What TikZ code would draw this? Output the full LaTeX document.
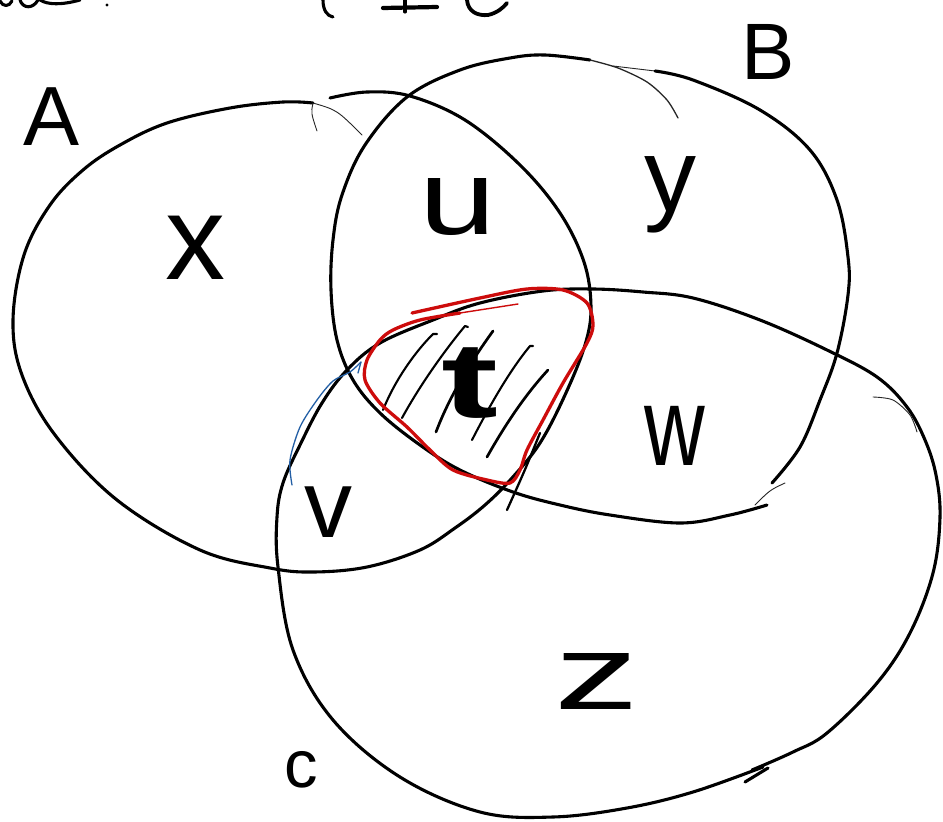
\documentclass[tikz,border=0pt]{standalone}
\usepackage{fontspec}
\setmainfont{Liberation Sans}
\definecolor{penred}{RGB}{205,12,12}
\definecolor{penblue}{RGB}{35,95,165}
\begin{document}
\begin{tikzpicture}[x=1pt,y=-1pt, line cap=round, line join=round,
  ink/.style={draw=black, line width=3.1pt},
  thinink/.style={draw=black!85, line width=0.9pt},
  hatch/.style={draw=black, line width=2.1pt},
  redpen/.style={draw=penred, line width=3.3pt},
  bluepen/.style={draw=penblue, line width=1.3pt},
  lbl/.style={inner sep=0pt, text=black}]
\useasboundingbox (0,0) rectangle (943,822);
\fill[white] (0,0) rectangle (943,822);

% top fragments (cut-off handwriting)
\draw[ink] (0,1) .. controls (3,7) and (9,7) .. (12,1);
\draw[ink] (20,0) .. controls (23,9) and (33,9) .. (38,0);
\draw[ink] (40,0) .. controls (48,5) and (62,5) .. (80,0);
\fill (107,5) circle (1.6);
\draw[ink] (323,0) .. controls (323,10) and (327,16) .. (333,17);
\draw[ink, line width=4.2pt] (383,8) -- (437,7);
\draw[ink] (405,0) -- (405,12);
\draw[ink, line width=3.8pt] (467,0) .. controls (468,12) and (478,16) .. (488,15) .. controls (497,13) and (503,8) .. (507,3);

% set A
\draw[ink] plot[smooth, tension=0.6] coordinates {(313,103) (283,102) (230,108) (167,123) (120,145) (83,170) (50,205) (24,255) (13,320) (22,375) (55,435) (117,500) (200,550) (270,568) (313,572) (367,567) (420,550) (455,528) (485,505) (512,478) (540,443) (565,395) (585,345) (591,307) (584,262) (560,213) (520,165) (465,120) (410,96) (367,92) (330,98)};
\draw[thinink] (313,103) .. controls (311,113) .. (317,131);
\draw[thinink] (313,103) .. controls (337,110) .. (362,135);
\draw[ink, line width=2.3pt] (540,433) .. controls (525,470) .. (507,510);

% set B
\draw[ink] plot[smooth, tension=0.6] coordinates {(767,505) (730,515) (680,523) (610,515) (560,505) (513,492) (460,470) (420,445) (380,413) (353,380) (337,340) (331,290) (333,240) (342,195) (365,145) (407,97) (460,70) (510,58) (545,55) (590,60)};
\draw[thinink, line width=1.3pt] plot[smooth] coordinates {(590,60) (618,68) (647,82) (667,100) (678,118)};
\draw[thinink] (613,66) -- (655,71);
\draw[ink] plot[smooth, tension=0.6] coordinates {(655,71) (693,80) (760,110) (810,150) (837,200) (848,257) (848,295) (837,353) (820,400) (800,447) (772,483)};
\draw[thinink] (785,483) .. controls (770,490) .. (755,505);

% set C
\draw[ink] plot[smooth, tension=0.6] coordinates {(763,767) (693,792) (627,808) (553,817) (480,812) (400,777) (333,720) (293,650) (278,567) (277,517) (283,483) (300,445) (322,403) (347,370) (380,343) (433,320) (480,303) (543,291) (593,289) (643,292) (693,298) (760,320) (827,350) (877,377) (907,407) (925,440) (936,475) (940,517) (933,573) (910,633) (877,683) (827,733) (793,752) (752,770)};
\draw[ink] (745,782) -- (768,768);
\draw[thinink] plot[smooth] coordinates {(873,397) (893,400) (910,415) (917,432)};

% blue stroke
\draw[bluepen] plot[smooth] coordinates {(292,485) (290,460) (300,427) (317,400) (333,381) (350,372) (361,362)};
\draw[bluepen] (361,362) -- (358,373);

% hatching
\draw[hatch] (383,410) .. controls (395,380) and (415,352) .. (433,334) -- (437,334);
\draw[hatch] (402,418) .. controls (420,385) and (445,350) .. (465,326) -- (468,327);
\draw[hatch, line width=2.7pt] (436,432) .. controls (450,395) and (472,360) .. (493,331);
\draw[hatch] (472,440) .. controls (490,405) and (510,370) .. (530,346) -- (533,346);
\draw[hatch, line width=2.7pt] (487,457) .. controls (505,425) and (525,395) .. (548,370);

% red outline
\draw[redpen] plot[smooth] coordinates {(412,313) (480,298) (527,289) (563,290) (587,303) (593,325) (587,343) (563,383) (543,420) (527,450) (520,470) (510,483) (487,480) (453,470) (430,450) (407,427) (380,403) (365,380) (367,360) (380,340) (393,330) (420,320) (460,313)};
\draw[redpen, line width=1.4pt] (460,313) -- (518,304);

% labels
\node[lbl, font=\fontsize{84}{84}\selectfont] (lA) at (52,117) {A};
\node[lbl, font=\fontsize{80}{80}\selectfont] (lB) at (768,52) {B};
\node[lbl, font=\fontsize{67}{67}\selectfont] (lC) at (301,770) {c};
\node[lbl, font=\fontsize{120}{120}\selectfont] (lx) at (195,248) {x};
\node[lbl, font=\fontsize{106}{106}\selectfont] (lu) at (458,207) {\scalebox{1.3}[1]{u}};
\node[lbl, font=\fontsize{104}{104}\selectfont] (ly) at (670,195) {y};
\node[lbl, font=\fontsize{107}{107}\selectfont\bfseries] (lt) at (470,383) {\scalebox{1.6}[1]{t}};
\node[lbl, font=\fontsize{112}{112}\selectfont] (lw) at (675,436) {\scalebox{0.75}[1]{w}};
\node[lbl, font=\fontsize{96}{96}\selectfont] (lv) at (328,512) {v};
\node[lbl, font=\fontsize{106}{106}\selectfont] (lz) at (597,681) {\scalebox{1.6}[1]{z}};
\end{tikzpicture}
\end{document}
